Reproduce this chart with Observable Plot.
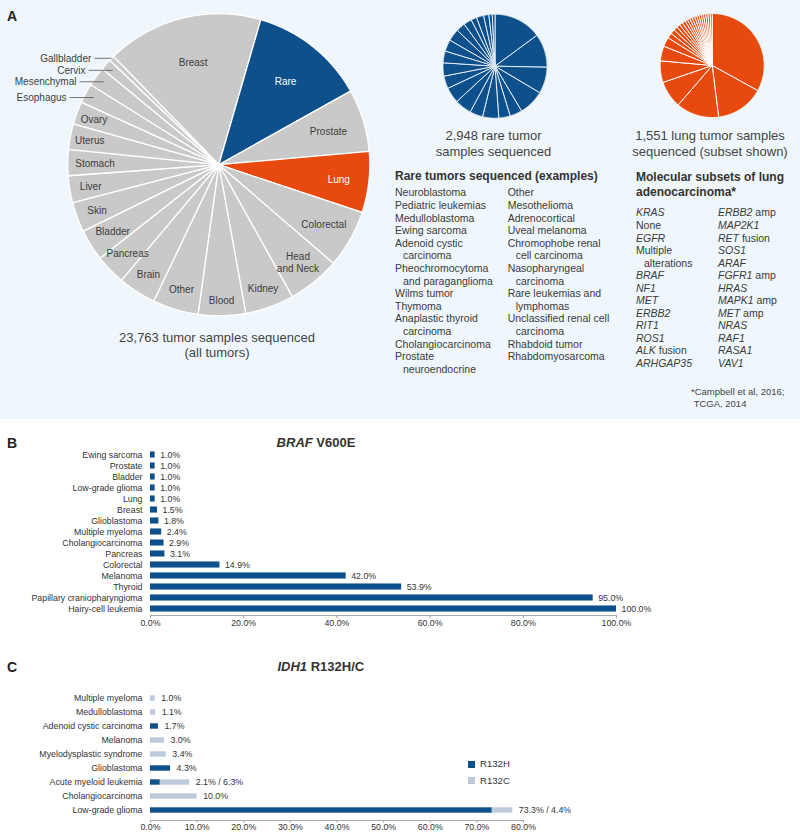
<!DOCTYPE html>
<html><head><meta charset="utf-8">
<script src="https://cdn.jsdelivr.net/npm/d3@7"></script>
<script src="https://cdn.jsdelivr.net/npm/@observablehq/plot@0.6"></script>
<style>
html,body{margin:0;padding:0;background:#fff;}
#fig{position:relative;width:800px;height:834px;overflow:hidden;font-family:"Liberation Sans",Arial,Helvetica,sans-serif;color:#3a3a3a;}
#panelA{position:absolute;left:0;top:0;width:800px;height:419px;background:#eff7fc;}
.abs{position:absolute;white-space:nowrap;}
.item{padding-left:8px;text-indent:-8px;white-space:pre-line;}
</style></head><body><div id="fig"><div id="panelA"></div></div>
<script>
// ---------------- DATA ----------------
// Panel A: all tumors sequenced (clockwise from upper left)
const tumorTypes = ["Breast","Rare","Prostate","Lung","Colorectal","Head and Neck","Kidney","Blood","Other","Brain","Pancreas","Bladder","Skin","Liver","Stomach","Uterus","Ovary","Esophagus","Mesenchymal","Cervix","Gallbladder"];
const tumorSamples = [3984,2948,1591,1551,1472,1333,1241,1201,1162,964,772,799,759,686,660,653,581,495,495,284,132];
const totalSamples = "23,763";
// Rare tumor pie (slices, estimated sample counts)
const rareSlices = [439,307,242,235,112,104,148,120,153,145,115,121,108,107,111,83,75,52,66,48,31,25];
const rareTotal = "2,948";
// Lung adenocarcinoma molecular subsets (% of shown lung samples)
const lungSubsets = ["KRAS","None","EGFR","Multiple alterations","BRAF","NF1","MET","ERBB2","RIT1","ROS1","ALK fusion","ARHGAP35","ERBB2 amp","MAP2K1","RET fusion","SOS1","ARAF","FGFR1 amp","HRAS","MAPK1 amp","MET amp","NRAS","RAF1","RASA1","VAV1"];
const lungShares = [33.0,15.0,13.3,8.4,6.7,4.6,2.9,1.6,1.4,1.25,1.1,1.0,1.0,0.8,0.8,0.8,0.8,0.7,0.7,0.7,0.7,0.7,0.7,0.7,0.6];
const lungTotal = "1,551";
const rareExamplesCol1 = ["Neuroblastoma","Pediatric leukemias","Medulloblastoma","Ewing sarcoma","Adenoid cystic\ncarcinoma","Pheochromocytoma\nand paraganglioma","Wilms tumor","Thymoma","Anaplastic thyroid\ncarcinoma","Cholangiocarcinoma","Prostate\nneuroendocrine"];
const rareExamplesCol2 = ["Other","Mesothelioma","Adrenocortical","Uveal melanoma","Chromophobe renal\ncell carcinoma","Nasopharyngeal\ncarcinoma","Rare leukemias and\nlymphomas","Unclassified renal cell\ncarcinoma","Rhabdoid tumor","Rhabdomyosarcoma"];
// Panel B: BRAF V600E prevalence (%)
const brafCats = ["Ewing sarcoma","Prostate","Bladder","Low-grade glioma","Lung","Breast","Glioblastoma","Multiple myeloma","Cholangiocarcinoma","Pancreas","Colorectal","Melanoma","Thyroid","Papillary craniopharyngioma","Hairy-cell leukemia"];
const brafValues = [1.0,1.0,1.0,1.0,1.0,1.5,1.8,2.4,2.9,3.1,14.9,42.0,53.9,95.0,100.0];
const brafTicks = [0,20,40,60,80,100];
// Panel C: IDH1 R132H / R132C prevalence (%)
const idhCats = ["Multiple myeloma","Medulloblastoma","Adenoid cystic carcinoma","Melanoma","Myelodysplastic syndrome","Glioblastoma","Acute myeloid leukemia","Cholangiocarcinoma","Low-grade glioma"];
const idhR132H = [0,0,1.7,0,0,4.3,2.1,0,73.3];
const idhR132C = [1.0,1.1,0,3.0,3.4,0,6.3,10.0,4.4];
const idhVariants = ["R132H","R132C"];
const idhTicks = [0,10,20,30,40,50,60,70,80];

// ---------------- STYLE / LAYOUT ----------------
const FONT = '"Liberation Sans", Arial, Helvetica, sans-serif';
const BLUE = "#0e508b", ORANGE = "#e8490f", GRAY = "#c9c9c9", LIGHT = "#bdcadc", TEXT = "#3a3a3a";
const fig = document.getElementById("fig");
const labelRadius = {Breast:0.70, Rare:0.71, Prostate:0.76, Lung:0.80, Colorectal:0.80, "Head and Neck":0.83, Kidney:0.87, Blood:0.90, Other:0.86, Brain:0.86, Pancreas:0.84, Bladder:0.83, Skin:0.86, Liver:0.86, Stomach:0.82, Uterus:0.87, Ovary:0.88};
const leaderNames = ["Gallbladder","Cervix","Mesenchymal","Esophagus"];
const leaderR = [1.0,0.94,0.94,0.94];
const leaderLen = [0.115,0.16,0.16,0.16];
const fmt = v => v.toFixed(1) + "%";

function addText(html, {x, y, size=10.5, lh, weight="normal", anchor="start", color=TEXT}) {
  const d = document.createElement("div");
  d.className = "abs";
  lh = lh || size * 1.2;
  d.style.cssText += `font-size:${size}px;line-height:${lh}px;font-weight:${weight};color:${color};top:${y - lh/2}px;`;
  if (anchor === "middle") { d.style.left = (x - 200) + "px"; d.style.width = "400px"; d.style.textAlign = "center"; }
  else d.style.left = x + "px";
  d.innerHTML = html;
  fig.appendChild(d);
  return d;
}
function addList(items, {x, y, lh=12.6, size=10.5, toHtml = s => s}) {
  const d = document.createElement("div");
  d.className = "abs";
  d.style.cssText += `left:${x}px;top:${y - lh/2}px;font-size:${size}px;line-height:${lh}px;color:${TEXT};`;
  d.innerHTML = items.map(s => `<div class="item">${toHtml(s)}</div>`).join("");
  fig.appendChild(d);
}
function place(svg, left, top) {
  svg.style.position = "absolute"; svg.style.left = left + "px"; svg.style.top = top + "px";
  fig.appendChild(svg);
}

function piePlot({names, values, colors, cx, cy, r, start=0, stroke="#fff", strokeWidth=1, left, top, width, height, extra}) {
  const rows = names.map((n, i) => ({name: n, value: values[i], color: colors[i]}));
  const arcs = d3.pie().sort(null).value(d => d.value).startAngle(start).endAngle(start + 2*Math.PI)(rows);
  const pts = [];
  arcs.forEach((a, k) => {
    const c = a.data.color;
    pts.push({k, x: 0, y: 0, c});
    const n = Math.max(2, Math.ceil((a.endAngle - a.startAngle) / (Math.PI/360)));
    for (let i = 0; i <= n; i++) {
      const t = a.startAngle + (a.endAngle - a.startAngle) * i / n;
      pts.push({k, x: Math.sin(t), y: -Math.cos(t), c});
    }
    pts.push({k, x: 0, y: 0, c});
  });
  const svg = Plot.plot({
    width, height, margin: 0,
    x: {domain: [-1, 1], range: [cx - r, cx + r], axis: null},
    y: {domain: [-1, 1], range: [cy - r, cy + r], axis: null},
    color: {type: "identity"},
    style: {background: "none", overflow: "visible", fontFamily: FONT},
    marks: [
      Plot.line(pts, {x: "x", y: "y", z: "k", fill: "c", stroke, strokeWidth, strokeLinejoin: "miter", strokeMiterlimit: 1, strokeLinecap: "butt"}),
      ...(extra ? extra(arcs) : [])
    ]
  });
  place(svg, left, top);
}

// ---------------- PANEL A ----------------
piePlot({
  names: tumorTypes, values: tumorSamples,
  colors: tumorTypes.map(t => t === "Rare" ? BLUE : t === "Lung" ? ORANGE : GRAY),
  cx: 218.3, cy: 164.2, r: 151, start: -44.2 * Math.PI / 180,
  stroke: "#fff", strokeWidth: 1.3, left: 0, top: 0, width: 400, height: 330,
  extra: arcs => {
    const lab = arcs.filter(a => !leaderNames.includes(a.data.name)).map(a => {
      const m = (a.startAngle + a.endAngle) / 2, rr = labelRadius[a.data.name];
      return {x: Math.sin(m) * rr, y: -Math.cos(m) * rr,
        text: a.data.name === "Head and Neck" ? "Head\nand Neck" : a.data.name,
        color: (a.data.name === "Rare" || a.data.name === "Lung") ? "#ffffff" : "#3c3c3c"};
    });
    const lead = leaderNames.map((n, i) => {
      const a = arcs.find(d => d.data.name === n);
      const m = (a.startAngle + a.endAngle) / 2;
      const ex = Math.sin(m) * leaderR[i], ey = -Math.cos(m) * leaderR[i];
      return {name: n, ex, ey, sx: ex - leaderLen[i]};
    });
    return [
      Plot.text(lab, {x: "x", y: "y", text: "text", fill: "color", fontSize: 10, lineHeight: 1.2}),
      Plot.link(lead, {x1: "sx", y1: "ey", x2: "ex", y2: "ey", stroke: "#555555", strokeWidth: 0.8}),
      Plot.text(lead, {x: "sx", y: "ey", text: "name", textAnchor: "end", dx: -3, fontSize: 10, fill: "#3c3c3c"})
    ];
  }
});

piePlot({
  names: rareSlices.map((_, i) => "rare" + i), values: rareSlices,
  colors: rareSlices.map(() => BLUE),
  cx: 64.5, cy: 65.7, r: 52, start: 0, stroke: "#e4ecf5", strokeWidth: 1,
  left: 430, top: 0, width: 130, height: 132
});
piePlot({
  names: lungSubsets, values: lungShares,
  colors: lungSubsets.map(() => ORANGE),
  cx: 61.7, cy: 65, r: 52, start: 0, stroke: "#fff", strokeWidth: 1,
  left: 650, top: 0, width: 130, height: 132
});

addText("A", {x: 7, y: 16.5, size: 14, weight: "bold", color: "#222"});
addText(`${totalSamples} tumor samples sequenced<br>(all tumors)`, {x: 217, y: 337.3, size: 13, lh: 15.4, anchor: "middle", color: "#444"});
addText(`${rareTotal} rare tumor<br>samples sequenced`, {x: 493.5, y: 136, size: 13, lh: 15.7, anchor: "middle", color: "#444"});
addText(`${lungTotal} lung tumor samples<br>sequenced (subset shown)`, {x: 710, y: 136, size: 13, lh: 15.7, anchor: "middle", color: "#444"});
addText("Rare tumors sequenced (examples)", {x: 395, y: 176.6, size: 12, weight: "bold", color: "#333"});
addList(rareExamplesCol1, {x: 395, y: 192.7});
addList(rareExamplesCol2, {x: 507.7, y: 192.7});
addText("Molecular subsets of lung<br>adenocarcinoma*", {x: 636, y: 177.3, size: 12, lh: 14.5, weight: "bold", color: "#333"});
const geneHtml = s => {
  const [first, ...rest] = s.split(" ");
  if (/^[A-Z0-9]+$/.test(first)) return `<i>${first}</i>${rest.length ? " " + rest.join(" ") : ""}`;
  return s === "Multiple alterations" ? "Multiple\nalterations" : s;
};
addList(lungSubsets.slice(0, 12), {x: 636, y: 212.7, lh: 12.55, toHtml: geneHtml});
addList(lungSubsets.slice(12), {x: 718, y: 212.7, lh: 12.55, toHtml: geneHtml});
addText("*Campbell et al, 2016;<br>&nbsp;TCGA, 2014", {x: 691, y: 392, size: 9.5, lh: 11.5, color: "#444"});

// ---------------- PANEL B ----------------
addText("B", {x: 7, y: 443, size: 14, weight: "bold", color: "#222"});
addText("<i>BRAF</i> V600E", {x: 316, y: 443, size: 13, weight: "bold", anchor: "middle", color: "#333"});
const brafRows = brafCats.map((c, i) => ({cat: c, value: brafValues[i]}));
place(Plot.plot({
  width: 800, height: 205, marginLeft: 150, marginRight: 184, marginTop: 18.5, marginBottom: 20,
  x: {domain: [0, 100], range: [150, 616]},
  y: {domain: brafCats, range: [18.5, 185], padding: 0},
  style: {background: "none", fontFamily: FONT, fontSize: "8.8px", color: "#333", overflow: "visible"},
  marks: [
    Plot.barX(brafRows, {x: "value", y: "cat", fill: BLUE, insetTop: 2.45, insetBottom: 2.45}),
    Plot.text(brafRows, {x: "value", y: "cat", text: d => fmt(d.value), dx: 5, textAnchor: "start", fill: "#333"}),
    Plot.axisY({tickSize: 0, tickPadding: 8, label: null}),
    Plot.axisX({ticks: brafTicks, tickFormat: fmt, tickSize: 3, tickPadding: 1.5, label: null, stroke: "#999"}),
    Plot.frame({anchor: "bottom", stroke: "#aaa"})
  ]
}), 0, 430);

// ---------------- PANEL C ----------------
addText("C", {x: 7, y: 667, size: 14, weight: "bold", color: "#222"});
addText("<i>IDH1</i> R132H/C", {x: 320.8, y: 667, size: 13, weight: "bold", anchor: "middle", color: "#333"});
const idhRows = [];
idhCats.forEach((c, i) => {
  idhRows.push({cat: c, variant: "R132H", value: idhR132H[i]});
  idhRows.push({cat: c, variant: "R132C", value: idhR132C[i]});
});
const idhLabels = idhCats.map((c, i) => ({
  cat: c, total: idhR132H[i] + idhR132C[i],
  text: (idhR132H[i] > 0 && idhR132C[i] > 0) ? `${fmt(idhR132H[i])} / ${fmt(idhR132C[i])}` : fmt(idhR132H[i] + idhR132C[i])
}));
place(Plot.plot({
  width: 800, height: 154, marginLeft: 150, marginRight: 277, marginTop: 8.6, marginBottom: 14,
  x: {domain: [0, 80], range: [150, 523]},
  y: {domain: idhCats, range: [8.6, 140], padding: 0},
  color: {domain: idhVariants, range: [BLUE, LIGHT]},
  style: {background: "none", fontFamily: FONT, fontSize: "8.8px", color: "#333", overflow: "visible"},
  marks: [
    Plot.barX(idhRows, {x: "value", y: "cat", fill: "variant", insetTop: 4.3, insetBottom: 4.3}),
    Plot.text(idhLabels, {x: "total", y: "cat", text: "text", dx: 6, textAnchor: "start", fill: "#333"}),
    Plot.axisY({tickSize: 0, tickPadding: 8, label: null}),
    Plot.axisX({ticks: idhTicks, tickFormat: fmt, tickSize: 2.5, tickPadding: 0.5, label: null, stroke: "#999"}),
    Plot.frame({anchor: "bottom", stroke: "#aaa"})
  ]
}), 0, 680);

// legend
idhVariants.forEach((v, i) => {
  const y = 764 + i * 16.8;
  const sq = document.createElement("div");
  sq.className = "abs";
  sq.style.cssText += `left:468px;top:${y - 3.5}px;width:7px;height:7px;background:${i === 0 ? BLUE : LIGHT};`;
  fig.appendChild(sq);
  addText(v, {x: 480, y, size: 9.6, color: "#333"});
});
</script></body></html>
